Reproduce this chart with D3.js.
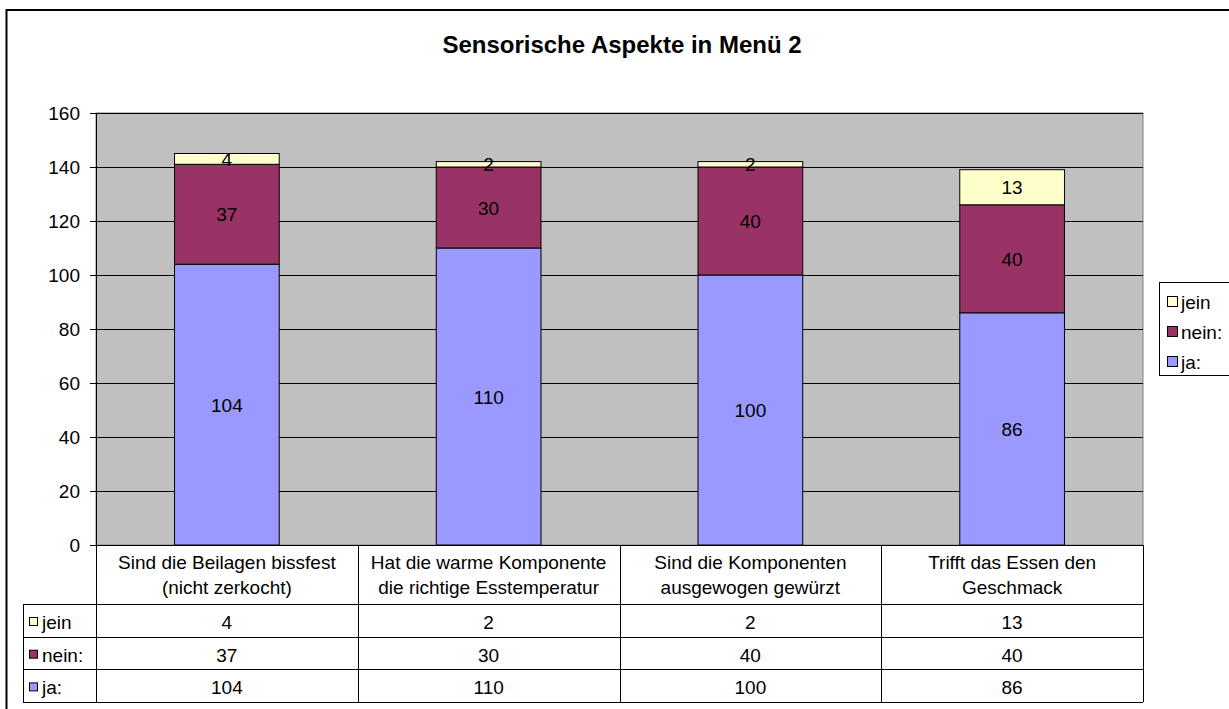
<!DOCTYPE html>
<meta charset="utf-8">
<html lang="de">
<style>
body { margin: 0; background: #fff; }
text { font-family: Arial, "Liberation Sans", sans-serif; fill: #000; }
</style>
<body>
<script src="https://d3js.org/d3.v7.min.js"></script>
<script>

// data
var categories = [
  ["Sind die Beilagen bissfest", "(nicht zerkocht)"],
  ["Hat die warme Komponente", "die richtige Esstemperatur"],
  ["Sind die Komponenten", "ausgewogen gewürzt"],
  ["Trifft das Essen den", "Geschmack"]
];
var seriesNames = ["ja:", "nein:", "jein"];
var jaValues = [104, 110, 100, 86];
var neinValues = [37, 30, 40, 40];
var jeinValues = [4, 2, 2, 13];
var yTicks = [0, 20, 40, 60, 80, 100, 120, 140, 160];
var title = "Sensorische Aspekte in Menü 2";

var colors = {"ja:": "#9999FF", "nein:": "#993366", "jein": "#FFFFCC"};
var fs = "19px";

// table for the stack
var rows = categories.map(function(c, i) {
  return {cat: i, "ja:": jaValues[i], "nein:": neinValues[i], "jein": jeinValues[i]};
});

var width = 1229, height = 709;
var plot = {left: 96, right: 1143, top: 113, bottom: 545};

var svg = d3.select("body").append("svg")
    .attr("width", width)
    .attr("height", height);

// outer chart border (cut off at right and bottom)
svg.append("rect")
    .attr("x", 6.5).attr("y", 10)
    .attr("width", 1240).attr("height", 720)
    .attr("fill", "#fff")
    .attr("stroke", "#000")
    .attr("stroke-width", 2);

svg.append("text")
    .attr("x", 622).attr("y", 53)
    .attr("text-anchor", "middle")
    .style("font-size", "24px")
    .style("font-weight", "bold")
    .text(title);

var x = d3.scaleBand()
    .domain(d3.range(categories.length))
    .range([plot.left, plot.right]);

var y = d3.scaleLinear()
    .domain([0, 160])
    .range([plot.bottom, plot.top]);

// plot area
svg.append("rect")
    .attr("x", plot.left).attr("y", plot.top)
    .attr("width", plot.right - plot.left)
    .attr("height", plot.bottom - plot.top)
    .attr("fill", "#C0C0C0")
    .attr("stroke", "#808080")
    .attr("stroke-width", 1);

// gridlines
svg.append("g").selectAll("line")
    .data(yTicks.filter(function(d) { return d > 0; }))
  .enter().append("line")
    .attr("x1", plot.left).attr("x2", plot.right)
    .attr("y1", function(d) { return Math.round(y(d)) + 0.5; })
    .attr("y2", function(d) { return Math.round(y(d)) + 0.5; })
    .attr("stroke", "#000")
    .attr("stroke-width", 1);

// y axis
var yAxis = svg.append("g")
    .attr("transform", "translate(" + plot.left + ",0)")
    .call(d3.axisLeft(y).tickValues(yTicks).tickSize(6).tickPadding(10));
yAxis.select(".domain").attr("stroke", "#000");
yAxis.selectAll(".tick line").attr("stroke", "#000");
yAxis.selectAll(".tick text")
    .attr("dy", "0.35em")
    .style("font-size", fs)
    .style("font-family", "Arial, 'Liberation Sans', sans-serif");

// stacked bars
var stack = d3.stack().keys(seriesNames);
var stacked = stack(rows);
var barW = x.bandwidth() * 0.4;

var layers = svg.append("g").selectAll("g")
    .data(stacked)
  .enter().append("g")
    .attr("fill", function(d) { return colors[d.key]; });

layers.selectAll("rect")
    .data(function(d) { return d; })
  .enter().append("rect")
    .attr("x", function(d, i) { return x(i) + (x.bandwidth() - barW) / 2; })
    .attr("y", function(d) { return y(d[1]); })
    .attr("width", barW)
    .attr("height", function(d) { return y(d[0]) - y(d[1]); })
    .attr("stroke", "#000")
    .attr("stroke-width", 1);

layers.selectAll("text")
    .data(function(d) { return d; })
  .enter().append("text")
    .attr("x", function(d, i) { return x(i) + x.bandwidth() / 2; })
    .attr("y", function(d) { return (y(d[0]) + y(d[1])) / 2 + 7; })
    .attr("text-anchor", "middle")
    .style("font-size", fs)
    .text(function(d) { return d[1] - d[0]; });

// x axis baseline
svg.append("line")
    .attr("x1", plot.left - 6).attr("x2", plot.right)
    .attr("y1", plot.bottom + 0.5).attr("y2", plot.bottom + 0.5)
    .attr("stroke", "#000");

// data table
var tableTop = 604, rowH = 32.7, tableLeft = 23;
var tableRows = ["jein", "nein:", "ja:"];
var tableBottom = tableTop + rowH * tableRows.length;
var tbl = svg.append("g");

// category header labels
tbl.selectAll("text.cat")
    .data(categories)
  .enter().append("text")
    .attr("class", "cat")
    .attr("text-anchor", "middle")
    .style("font-size", fs)
    .selectAll("tspan")
    .data(function(d, i) { return d.map(function(l) { return {l: l, i: i}; }); })
  .enter().append("tspan")
    .attr("x", function(d) { return x(d.i) + x.bandwidth() / 2; })
    .attr("y", function(d, j) { return 569 + j * 25; })
    .text(function(d) { return d.l; });

// vertical lines of the table
var vx = d3.range(categories.length + 1).map(function(i) {
  return i < categories.length ? x(i) : plot.right;
});
tbl.selectAll("line.v")
    .data(vx)
  .enter().append("line")
    .attr("x1", function(d) { return Math.round(d) + 0.5; })
    .attr("x2", function(d) { return Math.round(d) + 0.5; })
    .attr("y1", plot.bottom).attr("y2", tableBottom)
    .attr("stroke", "#000");

tbl.append("line")
    .attr("x1", tableLeft + 0.5).attr("x2", tableLeft + 0.5)
    .attr("y1", tableTop).attr("y2", tableBottom)
    .attr("stroke", "#000");

// horizontal lines of the table
tbl.selectAll("line.h")
    .data(d3.range(tableRows.length + 1))
  .enter().append("line")
    .attr("x1", tableLeft).attr("x2", plot.right)
    .attr("y1", function(d) { return Math.round(tableTop + d * rowH) + 0.5; })
    .attr("y2", function(d) { return Math.round(tableTop + d * rowH) + 0.5; })
    .attr("stroke", "#000");

var valuesBySeries = {"jein": jeinValues, "nein:": neinValues, "ja:": jaValues};

tableRows.forEach(function(s, r) {
  var top = tableTop + r * rowH;
  tbl.append("rect")
      .attr("x", 29.5).attr("y", top + 13.5)
      .attr("width", 8).attr("height", 8)
      .attr("fill", colors[s])
      .attr("stroke", "#000");
  tbl.append("text")
      .attr("x", 42).attr("y", top + 25)
      .style("font-size", fs)
      .text(s);
  tbl.selectAll(null)
      .data(valuesBySeries[s])
    .enter().append("text")
      .attr("x", function(d, i) { return x(i) + x.bandwidth() / 2; })
      .attr("y", top + 25)
      .attr("text-anchor", "middle")
      .style("font-size", fs)
      .text(function(d) { return d; });
});

// legend
var legend = svg.append("g");
legend.append("rect")
    .attr("x", 1159.5).attr("y", 282.5)
    .attr("width", 100).attr("height", 93)
    .attr("fill", "#fff")
    .attr("stroke", "#000");

var legItems = legend.selectAll("g.item")
    .data(tableRows)
  .enter().append("g")
    .attr("transform", function(d, i) { return "translate(0," + (302 + i * 30) + ")"; });

legItems.append("rect")
    .attr("x", 1167.5).attr("y", -5.5)
    .attr("width", 10).attr("height", 10)
    .attr("fill", function(d) { return colors[d]; })
    .attr("stroke", "#000");

legItems.append("text")
    .attr("x", 1181).attr("y", 7)
    .style("font-size", fs)
    .text(function(d) { return d; });

</script>
</body>
</html>
